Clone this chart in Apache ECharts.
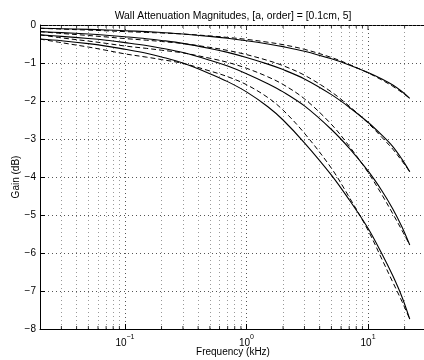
<!DOCTYPE html>
<html><head><meta charset="utf-8">
<script src="https://cdn.jsdelivr.net/npm/echarts@6/dist/echarts.min.js"></script>
<style>html,body{margin:0;padding:0;background:#fff}#c{width:424px;height:360px}</style>
</head><body><div id="c"></div>
<script>
const freqs   = [0.02, 0.03, 0.05, 0.07, 0.1, 0.15, 0.2, 0.3, 0.5, 0.7, 1, 1.5, 2, 3, 5, 7, 10, 13, 16, 19, 22.05];
const solid1  = [-0.085,-0.097,-0.115,-0.13,-0.15,-0.175,-0.197,-0.235,-0.30,-0.35,-0.415,-0.50,-0.57,-0.69,-0.89,-1.05,-1.25,-1.42,-1.58,-1.75,-1.93];
const dashed1 = [-0.085,-0.108,-0.134,-0.152,-0.174,-0.195,-0.211,-0.237,-0.288,-0.327,-0.378,-0.453,-0.518,-0.640,-0.855,-1.037,-1.260,-1.448,-1.614,-1.774,-1.93];
const solid2  = [-0.175,-0.20,-0.237,-0.268,-0.309,-0.36,-0.406,-0.484,-0.618,-0.721,-0.855,-1.03,-1.174,-1.421,-1.833,-2.163,-2.56,-2.90,-3.20,-3.53,-3.86];
const dashed2 = [-0.175,-0.222,-0.276,-0.314,-0.357,-0.40,-0.434,-0.488,-0.590,-0.669,-0.779,-0.934,-1.070,-1.321,-1.761,-2.135,-2.58,-2.956,-3.268,-3.578,-3.86];
const solid3  = [-0.26,-0.30,-0.355,-0.40,-0.463,-0.54,-0.61,-0.726,-0.927,-1.08,-1.28,-1.545,-1.76,-2.13,-2.75,-3.24,-3.84,-4.36,-4.84,-5.31,-5.79];
const dashed3 = [-0.26,-0.338,-0.423,-0.483,-0.553,-0.615,-0.663,-0.734,-0.875,-0.983,-1.138,-1.365,-1.565,-1.943,-2.615,-3.188,-3.878,-4.465,-4.968,-5.40,-5.79];
const solid4  = [-0.37,-0.415,-0.49,-0.555,-0.64,-0.745,-0.84,-1.0,-1.28,-1.49,-1.76,-2.15,-2.5,-3.1,-3.95,-4.6,-5.35,-6.02,-6.6,-7.15,-7.74];
const dashed4 = [-0.37,-0.465,-0.58,-0.665,-0.76,-0.845,-0.91,-1.01,-1.21,-1.36,-1.57,-1.91,-2.24,-2.85,-3.77,-4.53,-5.40,-6.16,-6.77,-7.27,-7.74];
const xMajor  = [0.1, 1, 10];
const xMinor  = [0.03,0.04,0.05,0.06,0.07,0.08,0.09,0.2,0.3,0.4,0.5,0.6,0.7,0.8,0.9,2,3,4,5,6,7,8,9,20];
const titleText = 'Wall Attenuation Magnitudes, [a, order] = [0.1cm, 5]';

const FONT = '"Liberation Sans", Arial, Helvetica, sans-serif';
const chart = echarts.init(document.getElementById('c'), null, {renderer: 'canvas'});
function pairs(ys) { return freqs.map((f, i) => [f, ys[i]]); }
function lineSeries(ys, dashed) {
  return {
    type: 'line', data: pairs(ys), showSymbol: false, smooth: 0.35,
    lineStyle: dashed ? {color: '#000', width: 1, type: [5, 3]} : {color: '#000', width: 1.1},
    z: 5
  };
}
function tickSeries(xs, y, len, dir) {
  return {
    type: 'scatter', silent: true, symbol: 'rect', symbolSize: [1, len],
    symbolOffset: [0, dir * len / 2], itemStyle: {color: '#000'},
    data: xs.map(v => [v, y]), z: 6
  };
}
const series = [
  lineSeries(solid1, false), lineSeries(dashed1, true),
  lineSeries(solid2, false), lineSeries(dashed2, true),
  lineSeries(solid3, false), lineSeries(dashed3, true),
  lineSeries(solid4, false), lineSeries(dashed4, true),
  {
    type: 'line', data: [], silent: true,
    markLine: {
      silent: true, symbol: 'none', label: {show: false}, animation: false,
      lineStyle: {color: '#999', width: 1, type: [1, 3]},
      data: xMinor.map(v => ({xAxis: v}))
    }
  },
  tickSeries(xMinor, -8, 3, -1),
  tickSeries(xMinor, 0, 3, 1),
  tickSeries(xMajor, 0, 5, 1)
];
const supMap = {'-1': '\u22121', '0': '0', '1': '1'};
chart.setOption({
  animation: false,
  title: {
    text: titleText, left: 228, top: 6, textAlign: 'center',
    textStyle: {fontSize: 10.4, fontWeight: 'normal', fontFamily: FONT, color: '#000'}
  },
  grid: {left: 40, top: 25, bottom: 31, right: -2, containLabel: false, outerBoundsMode: 'none'},
  xAxis: {
    type: 'log', logBase: 10, min: 0.02, max: 30,
    name: 'Frequency (kHz)', nameLocation: 'middle', nameGap: 18, nameMoveOverlap: false,
    nameTextStyle: {fontSize: 10, fontFamily: FONT, color: '#000'},
    axisLine: {onZero: false, lineStyle: {color: '#000', width: 1}},
    axisTick: {inside: true, length: 5, lineStyle: {color: '#000'}},
    axisLabel: {
      showMinLabel: false, showMaxLabel: false, margin: 5,
      formatter: v => '{b|10}{s|' + supMap[String(Math.round(Math.log10(v)))] + '}',
      rich: {
        b: {fontSize: 10, fontFamily: FONT, color: '#000', verticalAlign: 'bottom', lineHeight: 14},
        s: {fontSize: 7, fontFamily: FONT, color: '#000', verticalAlign: 'top', lineHeight: 14}
      }
    },
    splitLine: {show: true, lineStyle: {color: '#555', width: 1, type: [1, 3]}}
  },
  yAxis: {
    type: 'value', min: -8, max: 0, interval: 1,
    name: 'Gain (dB)', nameLocation: 'middle', nameGap: 19, nameMoveOverlap: false,
    nameTextStyle: {fontSize: 10, fontFamily: FONT, color: '#000'},
    axisLine: {show: true, onZero: false, lineStyle: {color: '#000', width: 1}},
    axisTick: {show: true, inside: true, length: 5, lineStyle: {color: '#000'}},
    axisLabel: {
      margin: 4, fontSize: 10, fontFamily: FONT, color: '#000',
      formatter: v => v < 0 ? '\u2212' + (-v) : String(v)
    },
    splitLine: {show: true, lineStyle: {color: '#555', width: 1, type: [1, 3]}}
  },
  graphic: [{
    type: 'line', silent: true,
    shape: {x1: 40, y1: 25.5, x2: 424, y2: 25.5},
    style: {stroke: '#000', lineWidth: 1}
  }],
  series: series
});
</script>
</body></html>
